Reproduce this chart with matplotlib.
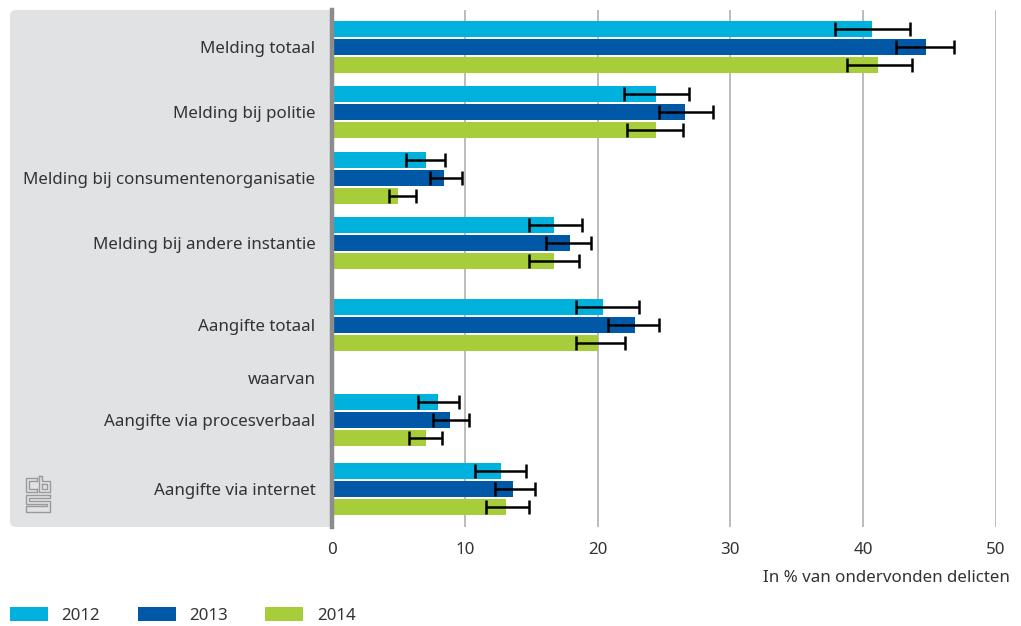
import matplotlib
matplotlib.use("Agg")
import matplotlib.pyplot as plt
from matplotlib.patches import FancyBboxPatch, Patch
from matplotlib.lines import Line2D
import numpy as np

# ---------------- data ----------------
categories = [
    "Melding totaal",
    "Melding bij politie",
    "Melding bij consumentenorganisatie",
    "Melding bij andere instantie",
    "Aangifte totaal",
    "Aangifte via procesverbaal",
    "Aangifte via internet",
]
years = ["2012", "2013", "2014"]

v2012 = [40.7, 24.4, 7.1, 16.7, 20.4, 8.0, 12.7]
v2013 = [44.7, 26.6, 8.4, 17.9, 22.8, 8.9, 13.6]
v2014 = [41.1, 24.4, 5.0, 16.7, 20.0, 7.1, 13.1]

lo2012 = [37.9, 22.0, 5.6, 14.8, 18.4, 6.5, 10.8]
hi2012 = [43.5, 26.9, 8.5, 18.8, 23.1, 9.6, 14.6]
lo2013 = [42.5, 24.6, 7.4, 16.1, 20.8, 7.6, 12.3]
hi2013 = [46.8, 28.7, 9.8, 19.5, 24.6, 10.3, 15.3]
lo2014 = [38.8, 22.2, 4.3, 14.8, 18.4, 5.8, 11.6]
hi2014 = [43.7, 26.4, 6.3, 18.6, 22.1, 8.3, 14.8]

xticks = [0, 10, 20, 30, 40, 50]
xlabel = "In % van ondervonden delicten"
subheading = "waarvan"

# ---------------- layout / style ----------------
W, H, DPI = 1021, 626, 100
colors = ["#00b1dd", "#0058a6", "#a8cd3a"]
group_pos = [47, 112, 178, 243, 325, 420, 489]   # vertical layout (pixel-like units)
offsets = [-18, 0, 18]
bar_h = 16
FONT = ["Noto Sans", "DejaVu Sans"]
plt.rcParams["font.family"] = FONT
text_col = "#333333"
FS = 12.2

fig = plt.figure(figsize=(W / DPI, H / DPI), dpi=DPI)

ax_left, ax_right, ax_top, ax_bot = 332, 996, 10, 527
ax = fig.add_axes([ax_left / W, 1 - ax_bot / H, (ax_right - ax_left) / W, (ax_bot - ax_top) / H])
ax.set_facecolor("white")

# grey panel behind labels
panel = FancyBboxPatch((0.10 + 0.06, (H - ax_bot) / DPI + 0.06),
                       3.45 - 0.10 - 0.12, (ax_bot - ax_top) / DPI - 0.12,
                       boxstyle="round,pad=0.06", transform=fig.dpi_scale_trans,
                       facecolor="#e1e2e4", edgecolor="none", zorder=-5)
fig.patches.append(panel)

vals = [v2012, v2013, v2014]
los = [lo2012, lo2013, lo2014]
his = [hi2012, hi2013, hi2014]
gp = np.array(group_pos, dtype=float)
for i in range(3):
    v = np.array(vals[i])
    y = gp + offsets[i]
    ax.barh(y, v, height=bar_h, color=colors[i], zorder=2, label=years[i])
    err = [v - np.array(los[i]), np.array(his[i]) - v]
    ax.errorbar(v, y, xerr=err, fmt="none", ecolor="black", elinewidth=1.8,
                capsize=5, capthick=1.8, zorder=3)

ax.set_xlim(0, 50)
ax.set_ylim(ax_bot, ax_top)

ax.set_xticks(xticks)
ax.set_xticklabels([str(t) for t in xticks], fontsize=FS, color=text_col)
ax.set_yticks(group_pos)
ax.set_yticklabels(categories, fontsize=FS, color=text_col)
ax.tick_params(axis="both", length=0)
ax.tick_params(axis="x", pad=11)
ax.tick_params(axis="y", pad=12)

ax.grid(axis="x", color="#b0b0b0", linewidth=1.2, zorder=0)
ax.set_axisbelow(True)
for s in ["top", "right", "bottom"]:
    ax.spines[s].set_visible(False)
ax.spines["left"].set_color("#8c8c8c")
ax.spines["left"].set_linewidth(3.2)
ax.spines["left"].set_zorder(4)

fig.text(1010 / W, 1 - 578 / H, xlabel, ha="right", va="center", fontsize=FS, color=text_col)
fig.text(316 / W, 1 - 380 / H, subheading, ha="right", va="center", fontsize=FS, color=text_col)

# legend
handles = [Patch(facecolor=c, edgecolor="none") for c in colors]
fig.legend(handles, years, loc="lower left", bbox_to_anchor=(10 / W, 2 / H),
           ncol=3, frameon=False, fontsize=FS, handlelength=2.25, handleheight=0.9,
           handletextpad=0.8, columnspacing=2.2, borderpad=0, borderaxespad=0,
           labelcolor=text_col)

# simplified cbs logo (pixel coords -> inches)
def px(xs, ys):
    return [x / DPI for x in xs], [(H - y) / DPI for y in ys]

logo_col = "#9a9a9a"
lines = [
    # c
    ([37, 26, 26, 37], [478, 478, 492, 492]),
    ([37, 29, 29, 37], [481, 481, 489, 489]),
    ([37, 37], [478, 481]),
    ([37, 37], [489, 492]),
    # b
    ([39, 39, 50, 50, 42, 42, 39], [476, 492, 492, 481, 481, 476, 476]),
    ([42, 42, 47, 47, 42], [484, 489, 489, 484, 484]),
    # s
    ([50, 26, 26, 47, 47, 26, 26, 50, 50, 29, 29, 50, 50], [495, 495, 504, 504, 506, 506, 512, 512, 501, 501, 498, 498, 495]),
]
for xs, ys in lines:
    X, Y = px(xs, ys)
    fig.add_artist(Line2D(X, Y, transform=fig.dpi_scale_trans, color=logo_col, linewidth=1.0))

fig.savefig("out.png", dpi=DPI)
